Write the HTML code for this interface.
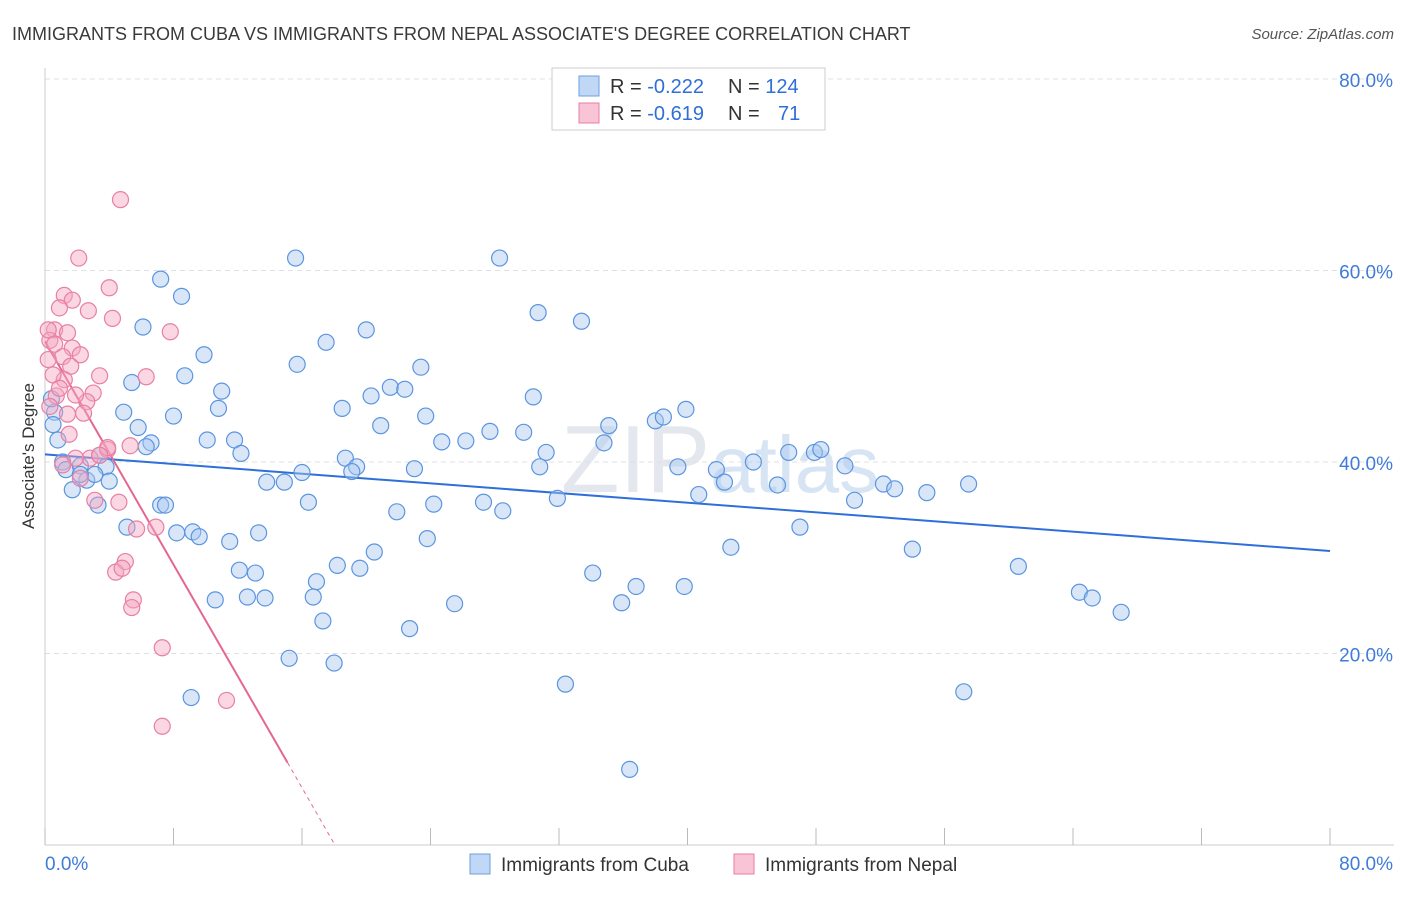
<!DOCTYPE html>
<html><head><meta charset="utf-8">
<style>
body{margin:0;background:#fff;font-family:"Liberation Sans",sans-serif;}
svg text{font-family:"Liberation Sans",sans-serif;}
</style></head>
<body>
<svg id="chart" width="1406" height="892" viewBox="0 0 1406 892" xmlns="http://www.w3.org/2000/svg">
<text x="12" y="40" font-size="18" fill="#3a3a3a">IMMIGRANTS FROM CUBA VS IMMIGRANTS FROM NEPAL ASSOCIATE'S DEGREE CORRELATION CHART</text>
<text x="1394" y="39" font-size="15" fill="#555" text-anchor="end" font-style="italic">Source: ZipAtlas.com</text>
<text x="720" y="492" font-size="96" fill="#e4e8ee" text-anchor="middle" font-family="Liberation Serif">ZIP<tspan font-family="Liberation Sans" font-size="80" fill="#d6e4f4">atlas</tspan></text>
<g id="grid"></g>
<g id="axes"></g>
<g id="lines"></g>
<g id="points"></g>
<text transform="translate(34,456) rotate(-90)" font-size="17" fill="#333" text-anchor="middle">Associate's Degree</text>
<g>
<rect x="552" y="68" width="273" height="62" fill="#fff" stroke="#ccc"/>
<rect x="579" y="76" width="20" height="20" fill="#c0d8f6" stroke="#6a9fe0"/>
<rect x="579" y="103" width="20" height="20" fill="#f9c4d6" stroke="#e87fa4"/>
<text x="610" y="93" font-size="20" fill="#333">R = <tspan fill="#2f6fd6">-0.222</tspan><tspan x="728">N = </tspan><tspan fill="#2f6fd6">124</tspan></text>
<text x="610" y="120" font-size="20" fill="#333">R = <tspan fill="#2f6fd6"> -0.619</tspan><tspan x="728">N = </tspan><tspan fill="#2f6fd6" x="778">71</tspan></text>
</g>
<g>
<rect x="470" y="854" width="20" height="20" fill="#c0d8f6" stroke="#6a9fe0"/>
<text x="501" y="871" font-size="19" fill="#333">Immigrants from Cuba</text>
<rect x="734" y="854" width="20" height="20" fill="#f9c4d6" stroke="#e87fa4"/>
<text x="765" y="871" font-size="19" fill="#333">Immigrants from Nepal</text>
</g>
</svg>
<script>
const xTicks=[0,8,16,24,32,40,48,56,64,72,80];
const yTicks=[20,40,60,80];
const cubaX=[7.2,15.6,28.3,8.5,6.1,30.7,33.4,20.0,17.5,9.9,15.7,23.4,5.4,8.7,21.5,22.4,20.3,11.0,30.4,4.9,10.8,18.5,8.0,23.7,39.9,38.0,38.5,35.1,5.8,6.6,6.3,10.1,11.8,20.9,24.7,26.2,27.7,29.8,31.2,34.8,46.3,47.9,48.3,44.1,49.8,12.2,18.7,19.4,19.1,16.0,23.0,30.8,39.4,41.8,42.3,13.8,14.9,52.2,52.9,54.9,57.5,45.6,40.7,31.9,27.3,28.5,24.2,21.9,16.4,50.4,7.2,7.5,3.3,5.1,8.2,9.2,9.6,11.5,13.3,23.8,20.5,47.0,42.7,54.0,18.2,19.6,12.1,13.1,16.9,16.7,10.6,12.6,13.7,34.1,36.8,39.8,35.9,25.5,60.6,64.4,65.2,67.0,17.3,22.7,15.2,18.0,32.4,9.1,57.2,36.4,0.6,0.5,0.8,1.1,1.3,1.7,2.2,2.6,3.4,3.8,4.0,3.1,0.4,2.2];
const cubaY=[59.1,61.3,61.3,57.3,54.1,55.6,54.7,53.8,52.5,51.2,50.2,49.9,48.3,49.0,47.8,47.6,46.9,47.4,46.8,45.2,45.6,45.6,44.8,44.8,45.5,44.3,44.7,43.8,43.6,42.0,41.6,42.3,42.3,43.8,42.1,42.2,43.2,43.1,41.0,42.0,41.0,41.0,41.3,40.0,39.6,40.9,40.4,39.5,39.0,38.9,39.3,39.5,39.5,39.2,37.9,37.9,37.9,37.7,37.2,36.8,37.7,37.6,36.6,36.2,35.8,34.9,35.6,34.8,35.8,36.0,35.5,35.5,35.5,33.2,32.6,32.7,32.2,31.7,32.6,32.0,30.6,33.2,31.1,30.9,29.2,28.9,28.7,28.4,27.5,25.9,25.6,25.9,25.8,28.4,27.0,27.0,25.3,25.2,29.1,26.4,25.8,24.3,23.4,22.6,19.5,19.0,16.8,15.4,16.0,7.9,45.2,43.9,42.3,40.0,39.2,37.1,39.6,38.1,40.7,39.5,38.0,38.7,46.6,38.7];
const nepalX=[4.7,2.1,4.0,1.2,1.7,2.7,0.9,4.2,0.6,1.4,7.8,0.3,0.6,1.7,2.2,1.1,0.2,1.6,3.4,6.3,1.2,3.0,2.6,0.7,0.3,1.4,2.4,1.5,5.3,3.9,2.8,1.9,1.1,2.2,3.1,4.6,6.9,5.7,5.0,4.4,4.8,5.5,5.4,7.3,11.3,7.3,0.2,0.5,0.9,1.9,3.9,3.4];
const nepalY=[67.4,61.3,58.2,57.4,56.9,55.8,56.1,55.0,53.8,53.5,53.6,52.7,52.3,51.9,51.2,51.0,50.7,50.0,49.0,48.9,48.6,47.2,46.3,46.9,45.8,45.0,45.1,42.9,41.7,41.3,40.4,40.4,39.7,38.3,36.0,35.8,33.2,33.0,29.6,28.5,28.9,25.6,24.8,20.6,15.1,12.4,53.8,49.1,47.7,47.0,41.5,40.7];
const cubaTrend=[40.8,30.7]; // y at x=0 and x=80
const nepalTrend=[52.6,8.6,15.1]; // y at 0, y at solid end, solid end x

const NS="http://www.w3.org/2000/svg";
const X0=45,X1=1330,Y0=845,Y80=79;
const sx=v=>X0+v/80*(X1-X0);
const sy=v=>Y0-v/80*(Y0-Y80);
function mk(tag,attrs,parent){const e=document.createElementNS(NS,tag);for(const k in attrs)e.setAttribute(k,attrs[k]);parent.appendChild(e);return e;}
const grid=document.getElementById('grid'),axes=document.getElementById('axes'),lines=document.getElementById('lines'),pts=document.getElementById('points');
yTicks.forEach(t=>{
  const l=mk('line',{x1:X0,x2:1394,y1:sy(t),y2:sy(t),stroke:'#dde1e6','stroke-dasharray':'5,4'},grid);
  
  
  const tx=mk('text',{x:1393,y:sy(t)+8,'font-size':19,fill:'#3f7bd8','text-anchor':'end'},grid);
  tx.textContent=t.toFixed(1)+'%';
  
  
});
const ax=mk('line',{x1:X0,x2:X0,y1:68,y2:Y0,stroke:'#ccc'},axes);


const bx=mk('line',{x1:X0,x2:1394,y1:Y0,y2:Y0,stroke:'#ccc'},axes);


xTicks.forEach(t=>{
  const l=mk('line',{x1:sx(t),x2:sx(t),y1:828,y2:Y0,stroke:'#bbb'},axes);
  
  
});
[[0,'start',X0],[80,'end',1393]].forEach(([v,a,x])=>{
  const tx=mk('text',{x:x,y:870,'font-size':19,fill:'#3f7bd8','text-anchor':a},axes);
  tx.textContent=v.toFixed(1)+'%';
  
  
});
function dots(xs,ys,fill,stroke,name){
  xs.forEach((x,i)=>{
    const c=mk('circle',{cx:sx(x),cy:sy(ys[i]),r:8,fill:fill,'fill-opacity':0.45,stroke:stroke,'stroke-width':1.2},pts);
    
    
  });
}
dots(cubaX,cubaY,'#a8c8f0','#5b95e0','cuba-point');
dots(nepalX,nepalY,'#f4a6c0','#e87fa4','nepal-point');
const bl=mk('line',{x1:sx(0),y1:sy(cubaTrend[0]),x2:sx(80),y2:sy(cubaTrend[1]),stroke:'#2e6fd8','stroke-width':2},lines);


const slope=(nepalTrend[1]-nepalTrend[0])/nepalTrend[2];
const pl=mk('line',{x1:sx(0),y1:sy(nepalTrend[0]),x2:sx(nepalTrend[2]),y2:sy(nepalTrend[1]),stroke:'#e5678f','stroke-width':2},lines);


const xz=-nepalTrend[0]/slope;
const pd=mk('line',{x1:sx(nepalTrend[2]),y1:sy(nepalTrend[1]),x2:sx(xz),y2:sy(0),stroke:'#e5678f','stroke-width':1,'stroke-dasharray':'4,4'},lines);


</script>
</body></html>
